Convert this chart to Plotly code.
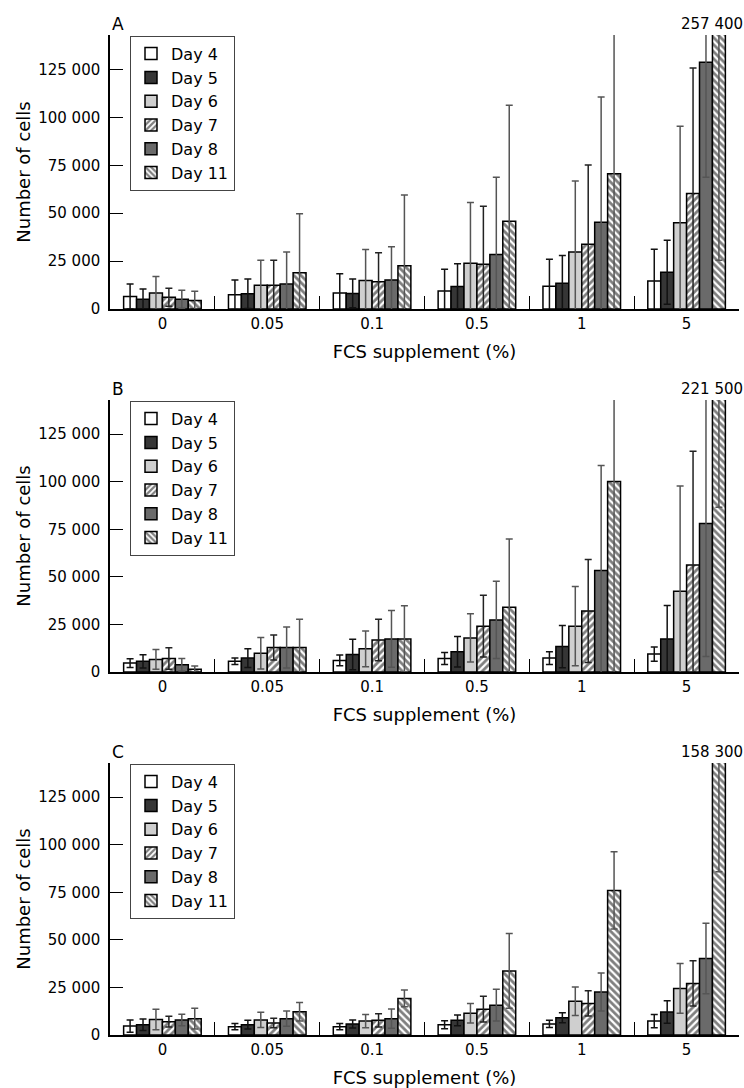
import plotly.graph_objects as go

fcs = ["0", "0.05", "0.1", "0.5", "1", "5"]
days = ["Day 4", "Day 5", "Day 6", "Day 7", "Day 8", "Day 11"]
panel_names = ["A", "B", "C"]

# Panel A
A_vals = [
    [6500, 7400, 8400, 9400, 11900, 14600],
    [5100, 7900, 8100, 11700, 13400, 19200],
    [8400, 12400, 14900, 23900, 29800, 45000],
    [6100, 12400, 14200, 23400, 33800, 60300],
    [5100, 13000, 15200, 28400, 45300, 128800],
    [4400, 18900, 22600, 45800, 70600, 257400],
]
A_err = [
    [6500, 7700, 10000, 11300, 14000, 16600],
    [5300, 7700, 7500, 11900, 14500, 16700],
    [8600, 13000, 16100, 31700, 37000, 50400],
    [4700, 13000, 15200, 30200, 41300, 65500],
    [4700, 16800, 17300, 40400, 65400, 60000],
    [4900, 30800, 36900, 60500, 80000, 232000],
]
# Panel B
B_vals = [
    [4700, 5600, 6100, 7100, 7300, 9400],
    [5600, 7300, 9200, 10600, 13400, 17400],
    [6600, 9900, 12200, 17900, 24100, 42400],
    [7100, 12900, 16800, 24100, 32100, 56300],
    [3800, 12900, 17400, 27400, 53300, 78100],
    [1400, 12900, 17400, 34000, 100200, 221500],
]
B_err = [
    [2300, 1700, 2800, 3100, 3300, 3800],
    [3500, 4900, 8000, 8000, 11100, 17500],
    [5200, 8300, 9400, 12700, 20800, 55400],
    [5600, 6600, 10900, 16200, 27100, 59700],
    [3300, 10800, 14900, 20300, 55200, 70000],
    [1700, 14800, 17400, 35900, 110000, 134900],
]
# Panel C
C_vals = [
    [4700, 4400, 4400, 5400, 5800, 7300],
    [5400, 5400, 5800, 7700, 9100, 12100],
    [8200, 7900, 7300, 11400, 17700, 24500],
    [7000, 6300, 7700, 13600, 16600, 27100],
    [7900, 8600, 8600, 15700, 22600, 40200],
    [8600, 12200, 19200, 33700, 76000, 158300],
]
C_err = [
    [3200, 1600, 1600, 2100, 1900, 3500],
    [3000, 2300, 2100, 2800, 2600, 5900],
    [5400, 4000, 3500, 5100, 7500, 13100],
    [2800, 2500, 3500, 6800, 6600, 11900],
    [3000, 4000, 5100, 8400, 10000, 18500],
    [5400, 4900, 4400, 19600, 20300, 72500],
]
y_ticks = [0, 25000, 50000, 75000, 100000, 125000]
y_max = 143000

panels = [(A_vals, A_err), (B_vals, B_err), (C_vals, C_err)]

fills = ["#ffffff", "#363636", "#cfcfcf", "#ffffff", "#6a6a6a", "#ffffff"]
shapes = ["", "", "", "/", "", "\\"]
errcols = ["#111111", "#111111", "#555555", "#222222", "#555555", "#555555"]

H = 1088.0
W = 744.0
x_dom = [110 / W, 739 / W]
y_px = [(35, 309), (400, 672), (763, 1035)]
FONT = "DejaVu Sans"

fig = go.Figure()
annotations = []
for p, (vals, errs) in enumerate(panels):
    sfx = "" if p == 0 else str(p + 1)
    for d in range(6):
        fig.add_trace(go.Bar(
            x=fcs, y=vals[d], name=days[d],
            xaxis="x" + sfx, yaxis="y" + sfx,
            legend="legend" + sfx,
            marker=dict(color=fills[d], line=dict(color="black", width=1.5),
                        pattern=dict(shape=shapes[d], fgcolor="black", bgcolor="white",
                                     size=5, solidity=0.55, fillmode="overlay")),
            error_y=dict(type="data", array=errs[d], symmetric=True,
                         color=errcols[d], thickness=1.5, width=3.5),
        ))
    top, bot = y_px[p]
    dom = [1 - bot / H, 1 - top / H]
    fig.layout["xaxis" + sfx] = dict(
        domain=x_dom, anchor="y" + sfx, type="category",
        categoryorder="array", categoryarray=fcs, range=[-0.5, 5.5],
        tickson="boundaries", ticks="inside", ticklen=13, tickwidth=1.2, tickcolor="black",
        showline=True, linecolor="black", linewidth=1.5, showgrid=False,
        tickfont=dict(family=FONT, size=15, color="black"),
        title=dict(text="FCS supplement (%)", font=dict(family=FONT, size=18, color="black"), standoff=14),
        automargin=False,
    )
    fig.layout["yaxis" + sfx] = dict(
        domain=dom, anchor="x" + sfx, range=[0, y_max],
        tickvals=y_ticks, tickformat=",d",
        ticks="inside", ticklen=13, tickwidth=1.2, tickcolor="black",
        showline=True, linecolor="black", linewidth=1.5, showgrid=False, zeroline=False,
        tickfont=dict(family=FONT, size=15, color="black"),
        ticklabelstandoff=5,
        title=dict(text="Number of cells", font=dict(family=FONT, size=18, color="black"), standoff=3),
        automargin=False,
    )
    fig.layout["legend" + sfx] = dict(
        x=130 / W, y=1 - (top + 0.7) / H, xanchor="left", yanchor="top",
        bordercolor="#444444", borderwidth=1, bgcolor="white",
        font=dict(family=FONT, size=16, color="black"),
        tracegroupgap=0, itemwidth=30,
    )
    annotations.append(dict(
        text=panel_names[p], xref="x" + sfx + " domain", yref="y" + sfx + " domain",
        x=0, y=1, xanchor="left", yanchor="bottom", showarrow=False, yshift=-1,
        font=dict(family=FONT, size=17, color="black"),
    ))
    big = vals[5][5]
    annotations.append(dict(
        text=f"{big:,}".replace(",", " "), xref="x" + sfx, yref="y" + sfx + " domain",
        x=fcs[5], y=1, xanchor="center", yanchor="bottom", xshift=25, showarrow=False,
        font=dict(family=FONT, size=15, color="black"),
    ))

fig.update_layout(
    width=744, height=1088,
    margin=dict(l=0, r=0, t=0, b=0),
    paper_bgcolor="white", plot_bgcolor="white",
    barmode="group", bargap=0.26, bargroupgap=0,
    separators=". ",
    annotations=annotations,
    showlegend=True,
    font=dict(family=FONT, color="black"),
)

fig.write_html("out.html")
